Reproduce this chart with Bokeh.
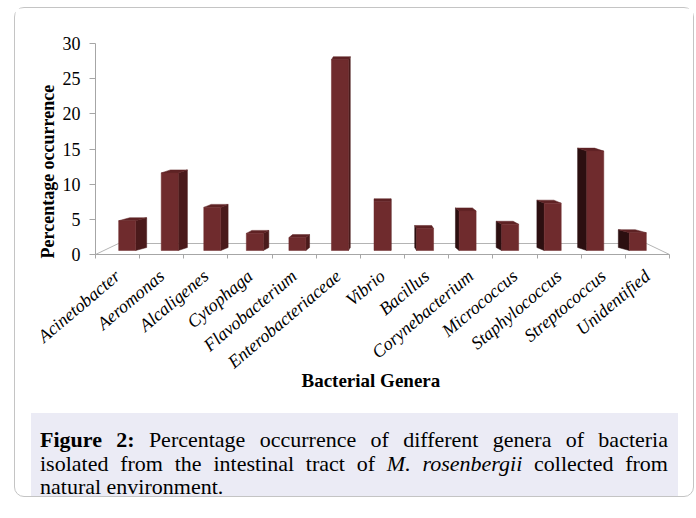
import numpy as np
from bokeh.plotting import figure
from bokeh.layouts import column
from bokeh.models import Range1d, FixedTicker, Div, Title
from bokeh.embed import file_html
from bokeh.resources import INLINE

# ---------------- data ----------------
genera = ["Acinetobacter", "Aeromonas", "Alcaligenes", "Cytophaga", "Flavobacterium",
          "Enterobacteriaceae", "Vibrio", "Bacillus", "Corynebacterium", "Micrococcus",
          "Staphylococcus", "Streptococcus", "Unidentified"]
occurrence = [4.8, 11.6, 6.7, 3.0, 2.4, 27.7, 7.5, 3.7, 6.2, 4.3, 7.3, 14.7, 3.1]
y_ticks = [0, 5, 10, 15, 20, 25, 30]
x_title = "Bacterial Genera"
y_title = "Percentage occurrence"
caption_lines = [
    "<b>Figure 2:</b> Percentage occurrence of different genera of bacteria",
    "isolated from the intestinal tract of <i>M. rosenbergii</i> collected from",
    "natural environment.",
]

# ---------------- layout (page pixels) ----------------
CX0, CY0 = 15, 8            # top-left of the chart figure on the page
W = 678
H1 = 398
FL, FR, FT, FB = 95, 669, 43, 254
n = len(genera)
YMAX = 30

XPP = n / (FR - FL)
YPP = YMAX / (FB - FT)

SERIF = "Liberation Serif"
AXC = "#a6a6a6"

p = figure(width=W, height=H1, output_backend="svg", toolbar_location=None,
           x_range=Range1d(-0.5, n - 0.5), y_range=Range1d(0, YMAX),
           min_border_left=FL - CX0, min_border_right=CX0 + W - FR,
           min_border_top=FT - CY0, min_border_bottom=CY0 + H1 - FB)
p.outline_line_color = None
p.xgrid.visible = False
p.ygrid.visible = False

# ---------------- pseudo 3-D floor ----------------
FLOOR_DX = 23 * XPP
FLOOR_DY = 11 * YPP
p.line(x=[-0.5, -0.5 + FLOOR_DX, n - 0.5 - FLOOR_DX, n - 0.5],
       y=[0, FLOOR_DY, FLOOR_DY, 0], line_color="#b4b4b4", line_width=1)

# ---------------- bars ----------------
idx = np.arange(n)
mid = (n - 1) / 2
FRONT_W = 17 * XPP
SHIFT = 1.6 * XPP
DEPTH_X = (11 / 6) * XPP
DEPTH_Y = 3 * YPP
BASE = 4 * YPP

vals = np.array(occurrence, dtype=float)
cx = idx - (idx - mid) * SHIFT
xl = cx - FRONT_W / 2
xr = cx + FRONT_W / 2
dx = -(idx - mid) * DEPTH_X

side_x, side_y, side_c = [], [], []
top_x, top_y = [], []
for i in range(n):
    edge = xr[i] if dx[i] >= 0 else xl[i]
    side_x.append([edge, edge, edge + dx[i], edge + dx[i]])
    side_y.append([BASE, vals[i], vals[i] + DEPTH_Y, BASE + DEPTH_Y])
    side_c.append("#4a1a1b" if dx[i] >= 0 else "#2c0f10")
    top_x.append([xl[i], xr[i], xr[i] + dx[i], xl[i] + dx[i]])
    top_y.append([vals[i], vals[i], vals[i] + DEPTH_Y, vals[i] + DEPTH_Y])

p.patches(xs=side_x, ys=side_y, fill_color=side_c, line_color=side_c, line_width=0.5)
p.patches(xs=top_x, ys=top_y, fill_color="#5e2224", line_color="#5e2224", line_width=0.5)
p.quad(left=xl, right=xr, bottom=BASE, top=vals, fill_color="#6f2b2d",
       line_color="#6f2b2d", line_width=0.5)

# ---------------- axes ----------------
p.xaxis.ticker = FixedTicker(ticks=[int(i) for i in idx],
                             minor_ticks=[float(i) - 0.5 for i in range(n + 1)])
p.xaxis.major_label_overrides = {int(i): g for i, g in enumerate(genera)}
p.xaxis.major_tick_line_color = None
p.xaxis.major_tick_out = 0
p.xaxis.major_tick_in = 0
p.xaxis.minor_tick_out = 4
p.xaxis.minor_tick_in = 0
p.xaxis.minor_tick_line_color = AXC
p.xaxis.axis_line_color = AXC
p.xaxis.major_label_orientation = 0.70
p.xaxis.major_label_standoff = 15
p.xaxis.major_label_text_font = SERIF
p.xaxis.major_label_text_font_style = "italic"
p.xaxis.major_label_text_font_size = "18px"
p.xaxis.major_label_text_color = "black"

p.yaxis.ticker = FixedTicker(ticks=y_ticks)
p.yaxis.axis_line_color = AXC
p.yaxis.major_tick_line_color = AXC
p.yaxis.major_tick_out = 6
p.yaxis.major_tick_in = 0
p.yaxis.minor_tick_line_color = None
p.yaxis.major_label_standoff = 9
p.yaxis.major_label_text_font = SERIF
p.yaxis.major_label_text_font_size = "18px"
p.yaxis.major_label_text_color = "black"

# axis titles as side titles (so they can be placed along the axes)
p.add_layout(Title(text=y_title, align="left", offset=-4, standoff=4,
                   text_font=SERIF, text_font_style="bold", text_font_size="18px",
                   text_color="black"), "left")

x_title_kw = dict(text=x_title, align="left", offset=206, vertical_align="top",
                  text_font=SERIF, text_font_style="bold", text_font_size="19px",
                  text_color="black")
try:
    xt = Title(standoff=-26, **x_title_kw)
    p.add_layout(xt, "below")
except Exception:
    p.xaxis.axis_label = x_title
    p.xaxis.axis_label_text_font = SERIF
    p.xaxis.axis_label_text_font_style = "bold"
    p.xaxis.axis_label_text_font_size = "19px"
    p.xaxis.axis_label_text_color = "black"
    p.xaxis.axis_label_standoff = -13

# ---------------- caption ----------------
just = "text-align:justify;text-align-last:justify;"
rows = []
for k, line in enumerate(caption_lines):
    style = just if k < len(caption_lines) - 1 else "text-align:left;"
    rows.append(f'<div style="{style}white-space:nowrap;">{line}</div>')
caption_html = (
    '<div style="box-sizing:border-box;width:647px;height:83px;background:#ebebf5;'
    "padding:15px 10px 0 9px;font-family:'Liberation Serif',serif;font-size:22px;"
    'line-height:23.5px;color:black;overflow:visible;">' + "".join(rows) + "</div>"
)
cap = Div(text=caption_html, width=647, height=83, margin=(7, 0, 0, 16))

layout = column(p, cap, margin=(7, 0, 0, 14), spacing=0,
                styles={"border": "1px solid #c4c4c4", "border-radius": "10px",
                        "background-color": "white"})

open("out.html", "w").write(file_html(layout, INLINE))
